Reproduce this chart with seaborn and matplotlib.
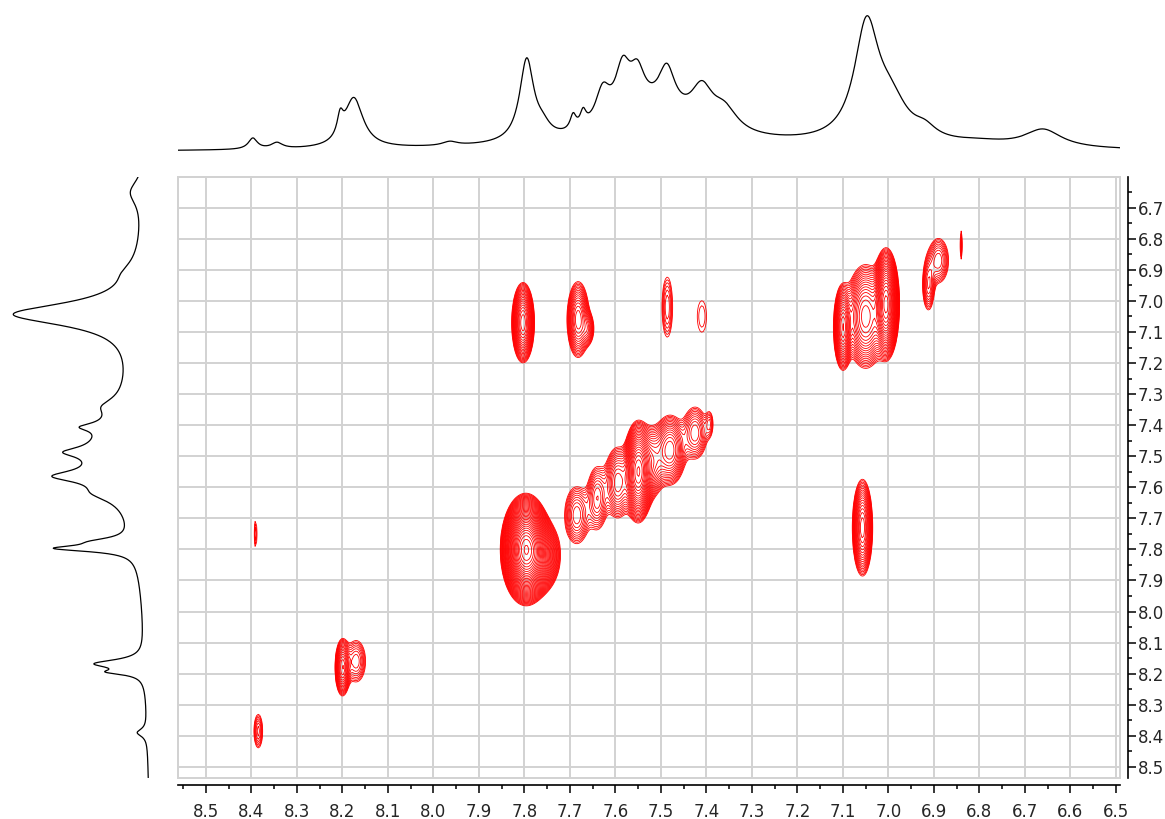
import numpy as np
import pandas as pd
import matplotlib
matplotlib.use("Agg")
import matplotlib.pyplot as plt
from matplotlib.patches import Rectangle
from matplotlib.ticker import MultipleLocator, FormatStrFormatter
import seaborn as sns

# ---------------- data ----------------
# axis ranges (ppm)
x_range = [8.5615, 6.491]
y_range = [6.601, 8.535]
tick_step = 0.1

# top (F2) projection: peak centre (ppm), height (px), half-width (ppm)
top_pos = [7.40, 8.397, 8.344, 8.205, 8.175, 7.964, 7.795, 7.76, 7.693, 7.671,
           7.628, 7.584, 7.552, 7.52, 7.487, 7.41, 7.36, 7.048, 6.995, 6.92,
           6.80, 6.66]
top_height = [6, 11, 6, 20, 50, 4, 82, 10, 15, 15,
              35, 48, 36, 30, 42, 38, 22, 114, 35, 10,
              4, 18]
top_width = [0.5, 0.012, 0.015, 0.008, 0.025, 0.02, 0.019, 0.02, 0.008, 0.008,
             0.02, 0.02, 0.02, 0.10, 0.022, 0.03, 0.035, 0.033, 0.045, 0.03,
             0.08, 0.05]

# left (F1) projection: peak centre (ppm), height (px), half-width (ppm)
left_pos = [7.40, 6.65, 7.043, 6.91, 7.49, 7.34, 7.406, 7.487, 7.565, 7.62,
            7.775, 7.797, 8.168, 8.195, 8.39]
left_height = [12, 14, 125, 8, 40, 15, 24, 30, 50, 20,
               30, 72, 48, 28, 10]
left_width = [0.6, 0.05, 0.045, 0.04, 0.14, 0.03, 0.015, 0.018, 0.022, 0.03,
              0.015, 0.012, 0.016, 0.01, 0.015]

# 2D cross peaks: F2 (x) ppm, F1 (y) ppm, x-width, y-width, amplitude
pk_x = [7.803, 7.682, 7.660, 7.486, 7.410,
        7.100, 7.050, 7.005, 6.912, 6.890, 6.840,
        7.057, 7.797, 7.770,
        7.685, 7.640, 7.595, 7.550, 7.520, 7.480, 7.425, 7.393,
        8.391, 8.200, 8.170, 8.385]
pk_y = [7.070, 7.060, 7.090, 7.020, 7.050,
        7.085, 7.050, 7.010, 6.950, 6.870, 6.820,
        7.730, 7.800, 7.820,
        7.690, 7.635, 7.585, 7.550, 7.520, 7.480, 7.425, 7.395,
        7.750, 8.180, 8.160, 8.385]
pk_sx = [0.0106, 0.012, 0.008, 0.009, 0.014,
         0.009, 0.020, 0.011, 0.008, 0.014, 0.003,
         0.010, 0.018, 0.020,
         0.016, 0.013, 0.015, 0.013, 0.015, 0.017, 0.016, 0.006,
         0.003, 0.008, 0.014, 0.007]
pk_sy = [0.055, 0.060, 0.030, 0.075, 0.070,
         0.060, 0.075, 0.068, 0.050, 0.045, 0.050,
         0.070, 0.058, 0.050,
         0.055, 0.060, 0.060, 0.065, 0.060, 0.055, 0.050, 0.030,
         0.045, 0.045, 0.045, 0.040]
pk_amp = [16, 8, 3, 2.3, 1.3,
          14, 12, 35, 3.5, 3.5, 1.5,
          12, 130, 20,
          4, 4, 6, 25, 5, 8, 4, 1.8,
          1.6, 8, 3.0, 2.5]

level_base = 1.0
level_factor = 1.15
n_levels = 40

# ---------------- build spectra ----------------
def lorentz_sum(grid, pos, hgt, wid):
    out = np.zeros_like(grid)
    for p, h, w in zip(pos, hgt, wid):
        out += h * w**2 / ((grid - p) ** 2 + w**2)
    return out

xs = np.linspace(min(x_range), max(x_range), 1400)
ys = np.linspace(min(y_range), max(y_range), 1200)
top_df = pd.DataFrame({"ppm": xs, "I": lorentz_sum(xs, top_pos, top_height, top_width)})
left_df = pd.DataFrame({"ppm": ys, "I": -lorentz_sum(ys, left_pos, left_height, left_width)})

gx = np.linspace(min(x_range), max(x_range), 600)
gy = np.linspace(min(y_range), max(y_range), 560)
GX, GY = np.meshgrid(gx, gy)
Z = np.zeros_like(GX)
for x0, y0, sx, sy, a in zip(pk_x, pk_y, pk_sx, pk_sy, pk_amp):
    Z += a * np.exp(-0.5 * (((GX - x0) / sx) ** 2 + ((GY - y0) / sy) ** 2))
levels = level_base * level_factor ** np.arange(n_levels)

# ---------------- figure ----------------
sns.set_style("white")
plt.rcParams["font.family"] = ["DejaVu Sans"]
W, H = 1165, 819
fig = plt.figure(figsize=(W / 100, H / 100), dpi=100)

def fx(px):
    return px / W

def fy(py):
    return 1 - py / H

main_l, main_r, main_t, main_b = 178, 1120, 177, 777.7
ax = fig.add_axes([fx(main_l), fy(main_b), fx(main_r - main_l), (main_b - main_t) / H])
ax_top = fig.add_axes([fx(main_l), fy(156), fx(main_r - main_l), 148 / H])
ax_left = fig.add_axes([0, fy(main_b), 160 / W, (main_b - main_t) / H])

# main contour plot
ax.contour(GX, GY, Z, levels=levels, colors="#ff0000", linewidths=0.6, zorder=3)
ax.set_xlim(x_range)
ax.set_ylim(y_range[1], y_range[0])
ax.xaxis.set_major_locator(MultipleLocator(tick_step))
ax.xaxis.set_minor_locator(MultipleLocator(tick_step / 2))
ax.yaxis.set_major_locator(MultipleLocator(tick_step))
ax.yaxis.set_minor_locator(MultipleLocator(tick_step / 2))
ax.xaxis.set_major_formatter(FormatStrFormatter("%.1f"))
ax.yaxis.set_major_formatter(FormatStrFormatter("%.1f"))
ax.grid(True, which="major", color="#d2d2d2", linewidth=1.4, zorder=0)
ax.set_axisbelow(True)
ax.yaxis.tick_right()
ax.yaxis.set_label_position("right")
for s in ["top", "left"]:
    ax.spines[s].set_color("#d2d2d2")
    ax.spines[s].set_linewidth(1.4)
ax.spines["right"].set_position(("outward", 6))
ax.spines["bottom"].set_position(("outward", 5))
for s in ["right", "bottom"]:
    ax.spines[s].set_color("black")
    ax.spines[s].set_linewidth(1.2)
ax.add_patch(Rectangle((0, 0), 1, 1, transform=ax.transAxes, fill=False,
                       ec="#d2d2d2", lw=1.4, zorder=1, clip_on=False))
ax.tick_params(axis="both", which="major", length=6, width=1.1, color="black",
               labelsize=12, direction="out")
ax.tick_params(axis="both", which="minor", length=3, width=1.1, color="black",
               direction="out")
ax.tick_params(axis="y", which="both", left=False, right=True)
ax.tick_params(axis="y", which="major", pad=1)
ax.tick_params(axis="x", which="both", bottom=True, top=False)
ax.tick_params(axis="x", which="major", pad=7)
ax.set_xlabel("")
ax.set_ylabel("")

# top projection
sns.lineplot(data=top_df, x="ppm", y="I", ax=ax_top, color="black",
             linewidth=0.9, sort=False, estimator=None)
ax_top.set_xlim(x_range)
ax_top.set_ylim(-4, 144)
ax_top.axis("off")

# left projection
sns.lineplot(data=left_df, x="I", y="ppm", ax=ax_left, color="black",
             linewidth=0.9, sort=False, estimator=None, orient="y")
ax_left.set_xlim(-152, 8)
ax_left.set_ylim(y_range[1], y_range[0])
ax_left.axis("off")

fig.savefig("out.png", dpi=100)
